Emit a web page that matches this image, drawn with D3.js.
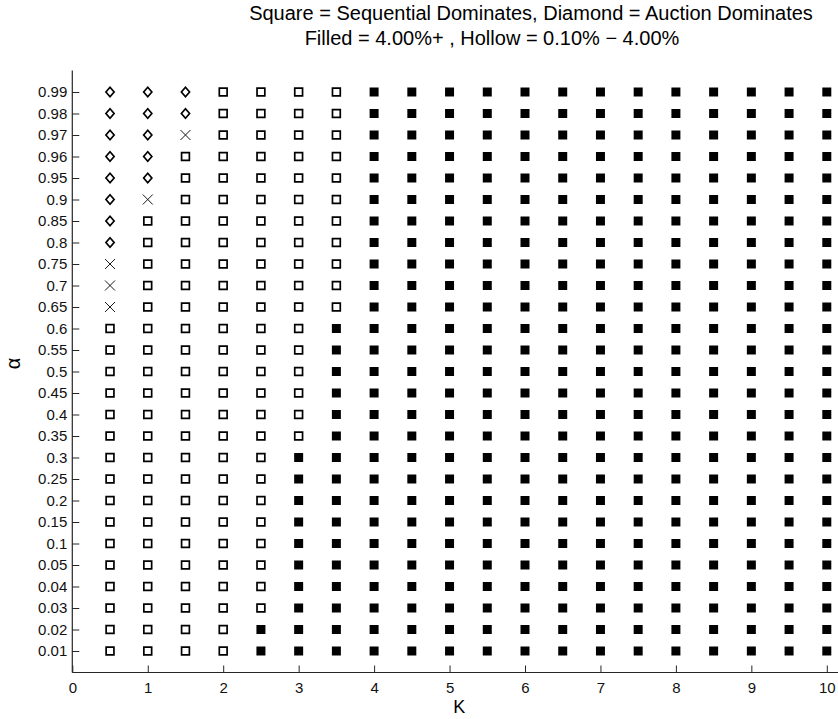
<!DOCTYPE html>
<html>
<head>
<meta charset="utf-8">
<script src="https://cdn.jsdelivr.net/npm/d3@7"></script>
<style>
    body { margin: 0; background: #fff; }
    svg { display: block; font-family: "Liberation Sans", Arial, sans-serif; }
</style>
</head>
<body>
<svg id="chart" width="838" height="719"></svg>
<script>
const svg = d3.select('#chart');

// K values along the x axis (one column each)
const kValues = [0.5, 1, 1.5, 2, 2.5, 3, 3.5, 4, 4.5, 5, 5.5, 6, 6.5, 7, 7.5, 8, 8.5, 9, 9.5, 10];
const xTicks = [0, 1, 2, 3, 4, 5, 6, 7, 8, 9, 10];

// alpha rows, bottom to top
const alphaLabels = ["0.01", "0.02", "0.03", "0.04", "0.05", "0.1", "0.15", "0.2", "0.25", "0.3",
    "0.35", "0.4", "0.45", "0.5", "0.55", "0.6", "0.65", "0.7", "0.75", "0.8", "0.85", "0.9",
    "0.95", "0.96", "0.97", "0.98", "0.99"];

// marker codes per row (same order as alphaLabels), one char per K value
// S = filled square, s = hollow square, D = hollow diamond, X = cross
const markerRows = [
    "ssssSSSSSSSSSSSSSSSS", // 0.01
    "ssssSSSSSSSSSSSSSSSS", // 0.02
    "sssssSSSSSSSSSSSSSSS", // 0.03
    "sssssSSSSSSSSSSSSSSS", // 0.04
    "sssssSSSSSSSSSSSSSSS", // 0.05
    "sssssSSSSSSSSSSSSSSS", // 0.1
    "sssssSSSSSSSSSSSSSSS", // 0.15
    "sssssSSSSSSSSSSSSSSS", // 0.2
    "sssssSSSSSSSSSSSSSSS", // 0.25
    "sssssSSSSSSSSSSSSSSS", // 0.3
    "ssssssSSSSSSSSSSSSSS", // 0.35
    "ssssssSSSSSSSSSSSSSS", // 0.4
    "ssssssSSSSSSSSSSSSSS", // 0.45
    "ssssssSSSSSSSSSSSSSS", // 0.5
    "ssssssSSSSSSSSSSSSSS", // 0.55
    "ssssssSSSSSSSSSSSSSS", // 0.6
    "XssssssSSSSSSSSSSSSS", // 0.65
    "XssssssSSSSSSSSSSSSS", // 0.7
    "XssssssSSSSSSSSSSSSS", // 0.75
    "DssssssSSSSSSSSSSSSS", // 0.8
    "DssssssSSSSSSSSSSSSS", // 0.85
    "DXsssssSSSSSSSSSSSSS", // 0.9
    "DDsssssSSSSSSSSSSSSS", // 0.95
    "DDsssssSSSSSSSSSSSSS", // 0.96
    "DDXssssSSSSSSSSSSSSS", // 0.97
    "DDDssssSSSSSSSSSSSSS", // 0.98
    "DDDssssSSSSSSSSSSSSS"  // 0.99
];

const titleLines = ["Square = Sequential Dominates, Diamond = Auction Dominates",
    "Filled = 4.00%+ , Hollow = 0.10% \u2212 4.00%"];

const plotLeft = 72.3, plotRight = 846, plotTop = 70.5, plotBottom = 672.5;
const ink = "#000";
const axisColor = "#262626";

const x = d3.scaleLinear().domain([0, 10]).range([plotLeft, 826.8]);
const y = d3.scaleLinear().domain([-1, alphaLabels.length]).range([plotBottom, plotTop]);

// flatten the grid into points
let points = [];
markerRows.forEach(function(row, i) {
    row.split("").forEach(function(code, j) {
        points.push({k: kValues[j], row: i, code: code});
    });
});

const shapes = {
    S: "M-4.5,-4.5H4.5V4.5H-4.5Z",
    s: "M-3.9,-3.9H3.9V3.9H-3.9Z",
    D: "M0,-4.7L4.1,0L0,4.7L-4.1,0Z",
    X: "M-5,-5L5,5M-5,5L5,-5"
};

// axes
const xAxis = d3.axisBottom(x).tickValues(xTicks).tickSize(-7).tickPadding(10);
const yAxis = d3.axisLeft(y)
    .tickValues(alphaLabels.map(function(d, i) { return i; }))
    .tickFormat(function(i) { return alphaLabels[i]; })
    .tickSize(-7).tickPadding(5);

const gx = svg.append("g").attr("transform", `translate(0,${plotBottom})`).call(xAxis);
const gy = svg.append("g").attr("transform", `translate(${plotLeft},0)`).call(yAxis);
[gx, gy].forEach(function(g) {
    g.select(".domain").remove();
    g.selectAll(".tick line").attr("stroke", axisColor).attr("stroke-width", 1);
    g.selectAll(".tick text").attr("fill", "#111").style("font-size", "15px");
});

svg.append("line")
    .attr("x1", plotLeft).attr("x2", plotRight).attr("y1", plotBottom).attr("y2", plotBottom)
    .attr("stroke", axisColor).attr("stroke-width", 1.2);
svg.append("line")
    .attr("x1", plotLeft).attr("x2", plotLeft).attr("y1", plotTop).attr("y2", plotBottom)
    .attr("stroke", axisColor).attr("stroke-width", 1.2);

// markers
svg.append("g").selectAll("path")
    .data(points)
    .join("path")
    .attr("transform", function(d) { return `translate(${x(d.k)},${y(d.row)})`; })
    .attr("d", function(d) { return shapes[d.code]; })
    .attr("fill", function(d) { return d.code === "S" ? ink : "none"; })
    .attr("stroke", function(d) { return d.code === "S" ? "none" : ink; })
    .attr("stroke-width", function(d) { return d.code === "X" ? 0.9 : 1.7; });

// labels
const midX = (plotLeft + plotRight) / 2;
svg.append("text")
    .attr("x", midX).attr("y", 713)
    .attr("text-anchor", "middle")
    .style("font-size", "18px")
    .text("K");
svg.append("text")
    .attr("transform", `translate(20,${(plotTop + plotBottom) / 2 - 8}) rotate(-90)`)
    .attr("text-anchor", "middle")
    .style("font-size", "20px")
    .text("\u03b1");

const titleX = [531, 492];
svg.append("g").selectAll("text")
    .data(titleLines)
    .join("text")
    .attr("x", function(d, i) { return titleX[i]; })
    .attr("y", function(d, i) { return 20 + i * 25; })
    .attr("text-anchor", "middle")
    .style("font-size", "20px")
    .text(function(d) { return d; });
</script>
</body>
</html>
